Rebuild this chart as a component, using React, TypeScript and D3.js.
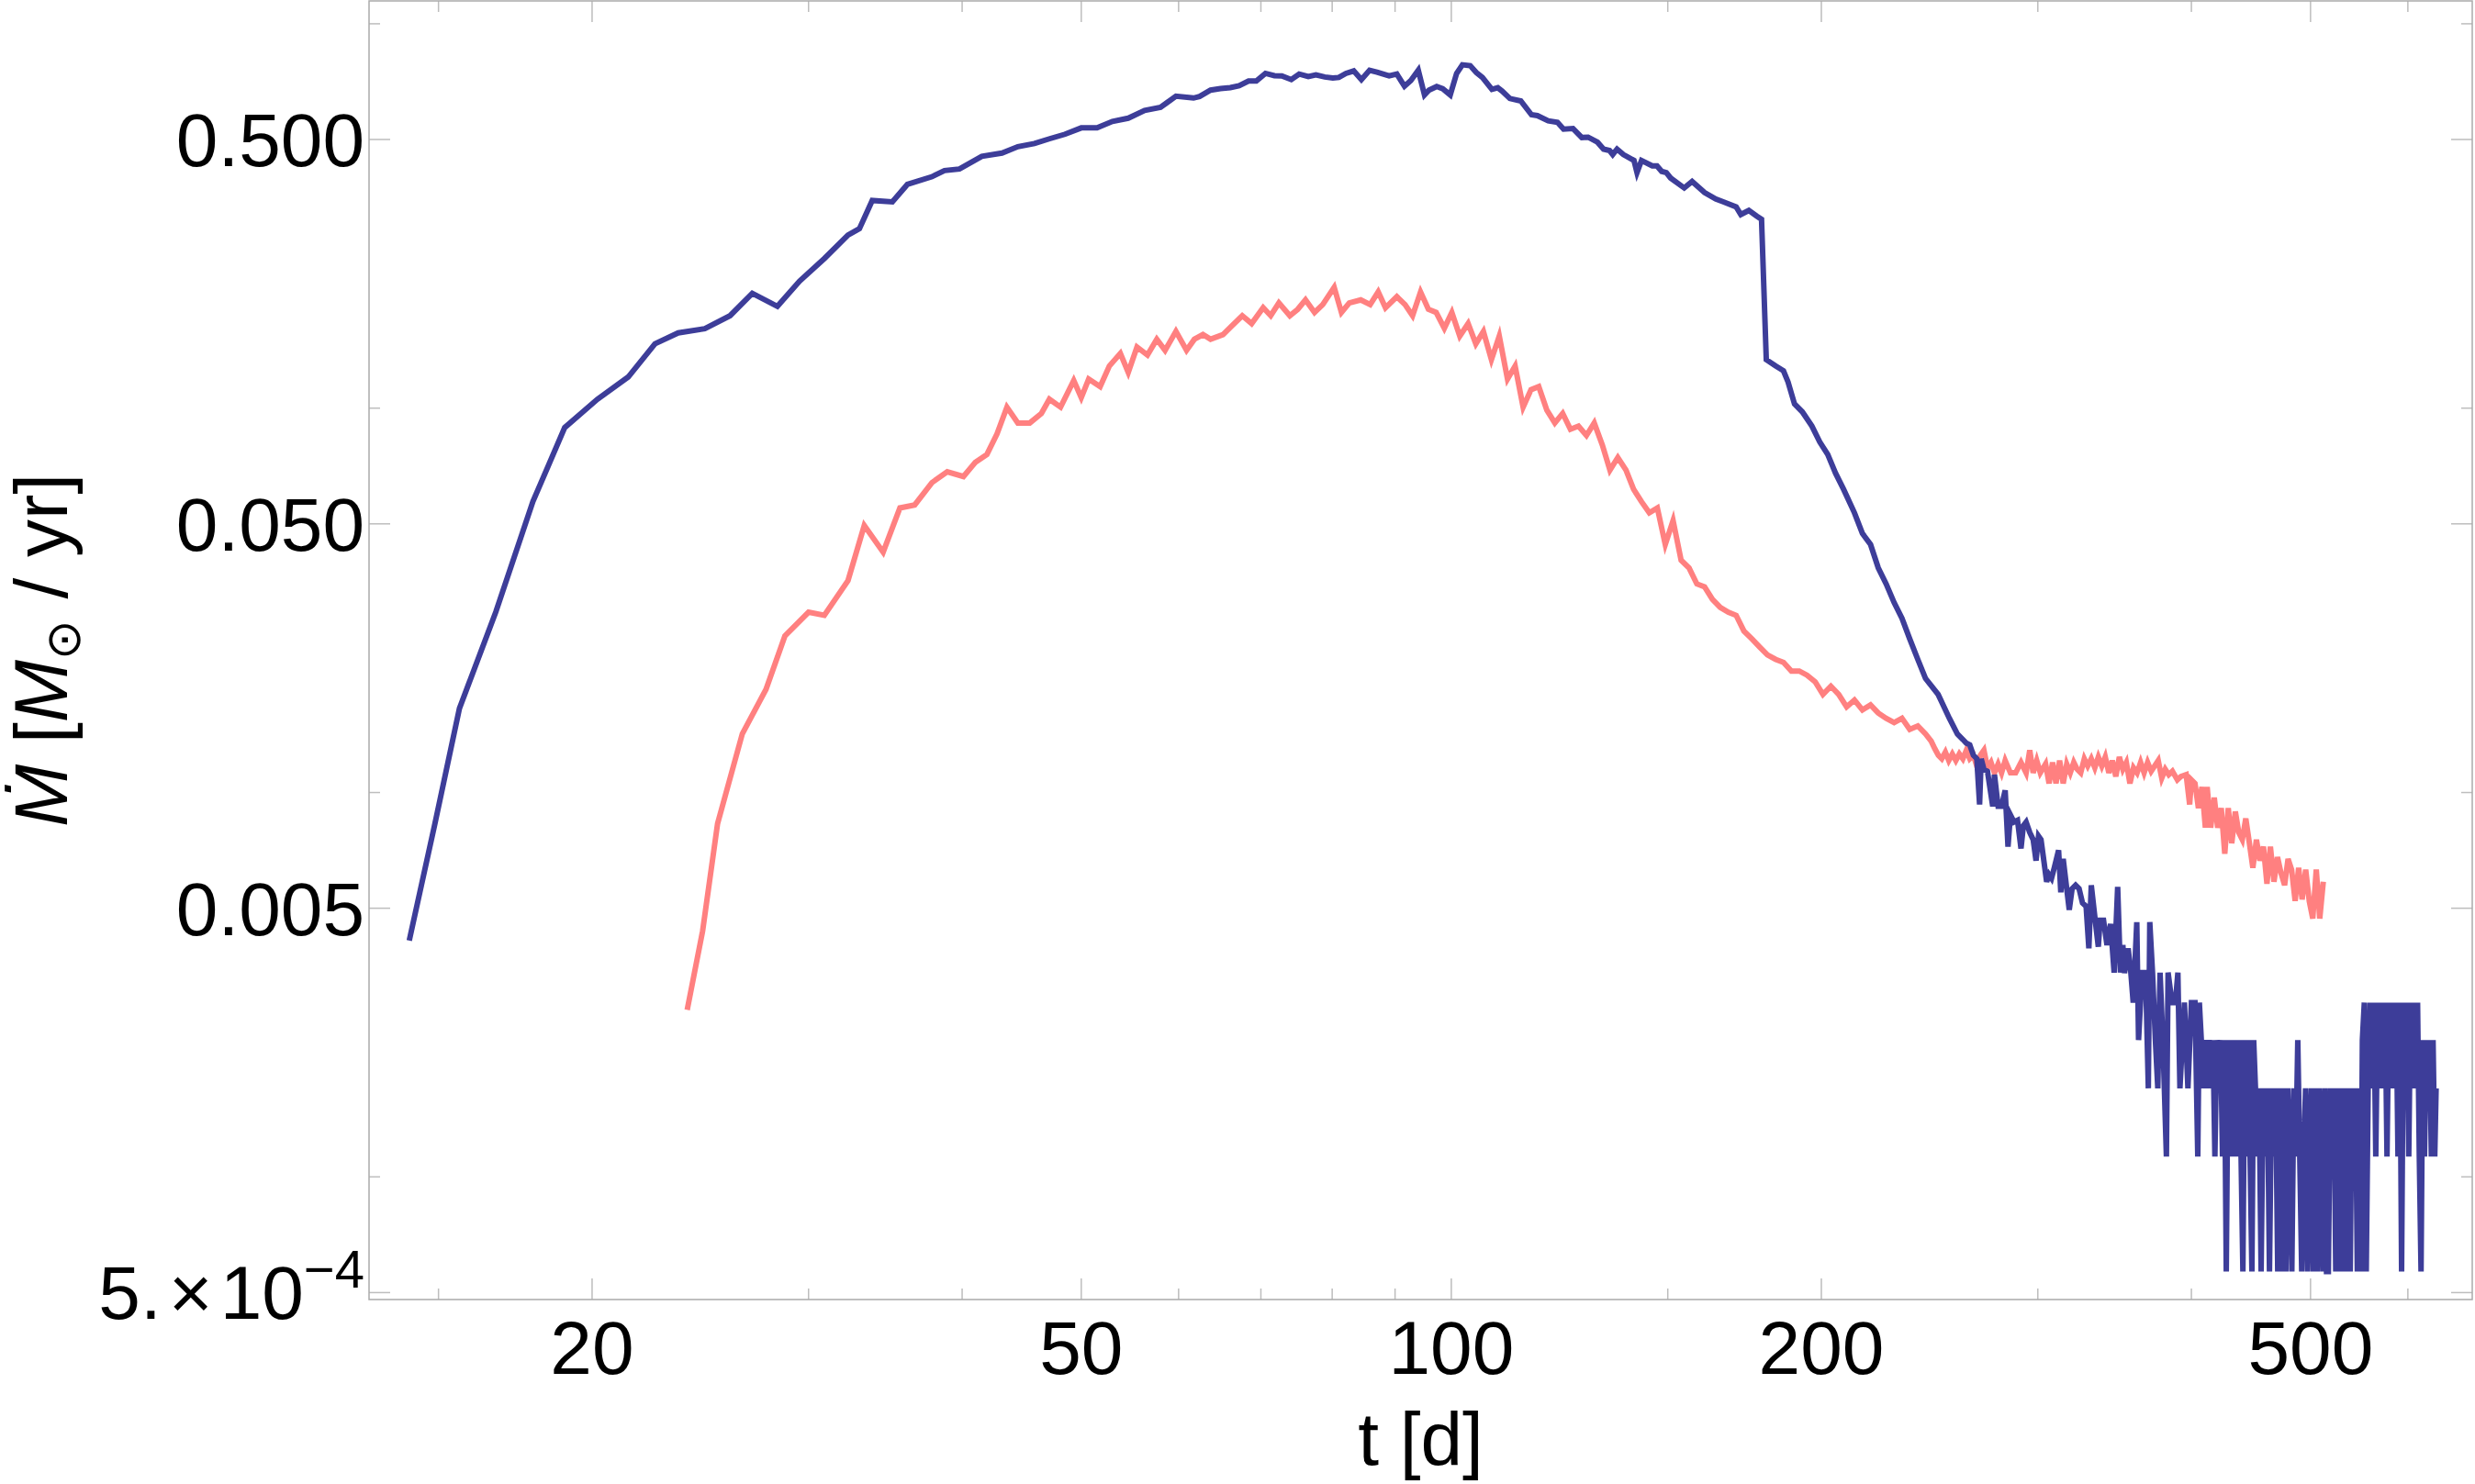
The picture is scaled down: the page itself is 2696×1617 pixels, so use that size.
import { useEffect } from 'react';
import * as d3 from 'd3';

// Blue series: t [d] and Mdot [Msun/yr]
const BLUE_T = [
  14.2, 14.9, 15.6, 16.7, 17.9, 19.0, 20.2, 21.4, 22.5, 23.5, 24.7, 25.9, 27.0, 28.3, 29.5, 30.9, 32.3, 33.0, 33.8, 35.1,
  36.1, 37.8, 38.7, 39.8, 41.5, 43.1, 44.4, 45.8, 47.1, 48.5, 50.0, 51.5, 53.0, 54.6, 56.3, 58.0, 59.7,
  61.7, 62.4, 63.7, 64.9, 66.1, 67.2, 68.4, 69.4, 70.6, 71.8, 72.8, 74.1, 75.2, 76.5, 77.6, 78.9, 80.1, 81.0, 82.1, 83.3,
  84.5, 85.8, 87.0, 89.0, 90.3, 91.6, 92.7, 94.0, 95.1, 95.9, 97.3, 98.4, 99.8, 101.0, 102.1, 103.6, 104.8, 106.0, 107.9, 109.1,
  110.0, 111.6, 113.9, 116.2, 117.5, 119.9, 122.0, 123.4, 125.6, 127.7, 129.2, 131.5, 133.0, 134.5, 135.3, 136.4, 138.0, 140.8, 141.6, 142.8,
  145.7, 147.0, 148.3, 149.6, 150.8,
  154.7, 157.0, 160.7, 164.1, 166.5, 170.5, 172.0, 174.6, 177.2, 178.8, 180.4, 183.6, 186.3, 187.9, 190.2, 193.0, 196.5, 199.4, 202.4, 205.4,
  208.5, 212.8, 216.0, 219.3, 222.5, 225.8, 229.2, 232.6, 236.0, 239.6, 243.1, 248.9, 254.2,
  258.1, 260.7, 262.4, 264.1, 265.9, 267.6, 269.0, 269.8, 271.2, 273.0, 275.7, 276.6, 278.5, 280.3, 282.2, 283.7, 285.0, 286.9, 288.8, 290.7,
  292.0, 293.5, 295.5, 297.4, 299.0, 300.4, 301.8, 303.4, 305.0, 306.4, 307.8, 309.4, 311.9, 313.2, 314.6, 316.7, 318.2, 319.9, 322.0, 324.1,
  326.2, 328.4, 330.1, 331.6, 333.8, 336.0, 337.1, 339.3, 341.5, 343.8, 346.1, 348.4, 350.2, 351.8, 352.9, 355.3, 357.1, 358.7, 361.1, 362.3,
  364.7, 367.1, 369.0, 370.0, 371.9, 373.9, 375.6, 377.2, 379.2, 381.7, 382.9, 385.7, 388.2, 390.0, 391.5, 394.8, 397.4, 400.0, 402.7, 404.8,
  406.0, 407.5, 409.0, 410.5, 412.0, 413.5, 415.0, 416.5, 418.0, 419.5, 421.0, 422.5, 424.0, 425.5, 427.0,
  428.5, 430.0, 431.5, 433.0, 434.5, 436.0, 437.5, 439.0, 440.5, 442.0, 443.5, 445.0, 446.5, 448.0, 449.5, 451.0, 452.5,
  454.0, 455.8, 457.6, 459.4, 461.2, 463.0, 464.8, 466.6, 468.4, 470.2, 472.0, 473.8, 475.6, 477.4, 479.2, 481.0, 482.8, 484.6, 486.4, 488.2,
  490.0, 491.8, 493.6, 495.4, 497.2, 499.0, 500.8, 502.6, 504.4, 506.2, 508.0, 509.8, 511.6, 513.4, 515.2, 517.0, 518.8, 520.6, 522.4, 524.2,
  526.0, 527.8, 529.6, 531.4, 533.2, 535.0, 536.8, 538.6, 540.4, 542.2, 544.0, 545.8, 547.6, 549.4,
  551, 553, 555, 557, 559, 561, 563, 565, 567, 569, 571, 573, 575, 577, 579, 581, 583, 585, 587, 589,
  591, 593, 595, 597, 599, 601, 603, 605, 607, 609, 611, 613, 615, 617, 619, 621, 623, 625, 627, 629, 631, 632.6,
];
const BLUE_M = [
  0.00412, 0.0083, 0.01655, 0.0295, 0.0571, 0.089, 0.1055, 0.1205, 0.147, 0.157, 0.161, 0.174, 0.199, 0.184, 0.214, 0.245, 0.282, 0.293, 0.347, 0.344,
  0.382, 0.4, 0.415, 0.419, 0.452, 0.461, 0.479, 0.488, 0.502, 0.516, 0.536, 0.536, 0.557, 0.568, 0.595, 0.606, 0.648,
  0.641, 0.647, 0.672, 0.678, 0.682, 0.69, 0.71, 0.71, 0.743, 0.733, 0.732, 0.716, 0.74, 0.729, 0.736, 0.727, 0.723, 0.725, 0.743, 0.754,
  0.716, 0.757, 0.748, 0.732, 0.74, 0.688, 0.712, 0.757, 0.653, 0.672, 0.687, 0.678, 0.653, 0.743, 0.782, 0.778, 0.747, 0.725, 0.675, 0.682,
  0.668, 0.639, 0.63, 0.58, 0.577, 0.559, 0.554, 0.532, 0.534, 0.506, 0.507, 0.492, 0.472, 0.468, 0.457, 0.472, 0.457, 0.441, 0.41, 0.441,
  0.427, 0.427, 0.413, 0.41, 0.397,
  0.374, 0.389, 0.364, 0.35, 0.344, 0.334, 0.319, 0.327, 0.316, 0.31, 0.1337, 0.1287, 0.1251, 0.117, 0.1025, 0.0978, 0.0898, 0.0817, 0.0758, 0.0677,
  0.0615, 0.0534, 0.0472, 0.0442, 0.0384, 0.0349, 0.0312, 0.0284, 0.0251, 0.0222, 0.0198, 0.018, 0.0156,
  0.01418, 0.01374, 0.01344, 0.0133, 0.0125, 0.01224, 0.00931, 0.01224, 0.01149, 0.01136, 0.00921, 0.01113, 0.00921, 0.00921, 0.01013, 0.00723, 0.00874, 0.00838, 0.00847, 0.00715,
  0.0082, 0.00838, 0.00787, 0.00754, 0.00665, 0.0077, 0.00754, 0.00665, 0.00586, 0.00611, 0.00598, 0.00637, 0.00708, 0.0055, 0.00672, 0.00562, 0.00495, 0.00562, 0.00574, 0.00562,
  0.00516, 0.00506, 0.00393, 0.00574, 0.00475, 0.00397, 0.00465, 0.00465, 0.00401, 0.00455, 0.0034, 0.00568, 0.0034, 0.00401, 0.00339, 0.00393, 0.0034, 0.00284, 0.0046, 0.00227,
  0.0034, 0.0034, 0.0017, 0.0046, 0.0034, 0.00227, 0.0017, 0.0034, 0.00227, 0.00113, 0.0034, 0.00284, 0.00284, 0.0034, 0.0017, 0.00284, 0.0017, 0.00284, 0.00284, 0.00113,
  0.00284, 0.00227, 0.0017, 0.00227, 0.0017, 0.00227, 0.0017, 0.00227, 0.00113, 0.00227, 0.0017, 0.00227, 0.00113, 0.00227, 0.000567,
  0.00227, 0.00113, 0.00227, 0.00113, 0.00227, 0.00113, 0.00227, 0.00113, 0.000567, 0.00227, 0.00113, 0.00227, 0.00113, 0.000567, 0.00227, 0.0017, 0.00113,
  0.0017, 0.000567, 0.0017, 0.00113, 0.0017, 0.000567, 0.0017, 0.00113, 0.0017, 0.000567, 0.0017, 0.000567, 0.0017, 0.000567, 0.0017, 0.00113, 0.000567, 0.0017, 0.00113, 0.00227,
  0.00113, 0.000567, 0.00113, 0.0017, 0.000567, 0.00113, 0.0017, 0.000567, 0.0017, 0.000567, 0.0017, 0.00113, 0.000567, 0.0017, 0.000567, 0.000567, 0.0017, 0.00113, 0.0017, 0.000567,
  0.0017, 0.000567, 0.0017, 0.000567, 0.0017, 0.000567, 0.0017, 0.000567, 0.0017, 0.00113, 0.0017, 0.000567, 0.0017, 0.000567,
  0.00227, 0.00284, 0.000567, 0.0017, 0.00284, 0.0017, 0.00284, 0.00113, 0.00284, 0.0017, 0.00284, 0.0017, 0.00284, 0.00113, 0.00284, 0.0017, 0.00284, 0.0017, 0.00284, 0.00113,
  0.00284, 0.000567, 0.00284, 0.0017, 0.00284, 0.00113, 0.00284, 0.0017, 0.00284, 0.0017, 0.00284, 0.00113, 0.000567, 0.00227, 0.00113, 0.00227, 0.0017, 0.00227, 0.00113, 0.00227, 0.00113, 0.0017,
];

// Red series
const RED_T = [
  23.9, 24.6, 25.3, 26.5, 27.7, 28.7, 30.0, 30.9, 32.3, 33.3, 34.5, 35.6, 36.6, 37.8, 38.9, 40.1, 41.0, 41.9, 42.7, 43.5,
  44.4, 45.4, 46.4, 47.1, 48.1, 49.3, 50.0, 50.7, 51.8, 52.7, 53.8, 54.6, 55.5, 56.6, 57.6, 58.5, 59.7, 60.9, 61.8, 62.8,
  63.7, 65.2, 66.2, 67.6, 68.8, 70.3, 71.3, 72.4, 73.9, 75.0, 76.1, 77.4, 78.6, 80.3, 81.4, 82.6, 84.4, 85.9, 87.2, 88.4,
  90.3, 91.7, 93.0, 94.4, 95.8, 97.2, 98.7, 100.1, 101.6, 103.2, 104.7, 106.2, 107.8, 109.4, 111.1, 112.7, 114.4, 116.1, 117.8, 119.6,
  121.4, 123.2, 125.0, 126.9, 128.8, 130.7, 132.7, 134.6, 136.6, 138.7, 140.7, 142.8, 144.9, 147.1, 149.3, 151.5, 153.8, 156.1, 158.4, 160.7,
  163.1, 165.5, 168.0, 170.5, 173.0, 175.6, 178.2, 180.8, 183.6, 186.3, 189.1, 191.9, 194.7, 197.7, 200.6, 203.6, 206.6, 209.7, 212.8, 216.0,
  219.3, 222.5, 225.8, 229.2, 232.6, 236.0, 239.6, 243.1,
  245.7, 247.3, 249.0, 250.6, 252.3, 253.9, 255.6, 257.3, 259.0, 260.7, 262.4, 264.1, 265.9, 267.6, 269.4, 271.2, 273.0, 274.8, 276.6, 278.5,
  280.3, 282.2, 285.0, 287.8, 290.7, 293.5, 295.5, 297.4, 299.4, 301.4, 304.4, 306.4, 308.4, 310.4, 312.5, 314.6, 316.7, 318.8, 320.9, 323.0,
  325.1, 327.3, 329.4, 331.6, 333.8, 336.0, 338.2, 340.4, 342.7, 344.9, 347.2, 349.5, 351.8, 354.1, 356.5, 358.9, 361.3, 363.7, 366.1, 368.5,
  371.0, 373.4, 375.9, 378.4, 380.9, 383.4, 386.0, 389.6, 392.2, 396.1, 398.7, 400.0, 402.7, 405.3, 408.0, 410.6, 412.0, 414.7, 417.5, 420.2,
  423.0, 425.8, 428.6, 431.4, 434.3, 437.1, 440.0, 442.9, 445.9, 448.8, 451.8, 454.8, 457.8, 460.8, 463.8, 466.9, 470.0, 473.1, 476.3, 479.4,
  482.6, 485.8, 489.0, 492.2, 495.5, 498.8, 502.1, 505.4, 508.7, 512.1,
];
const RED_M = [
  0.00272, 0.00436, 0.0083, 0.01422, 0.01854, 0.02555, 0.02945, 0.0289, 0.0356, 0.0495, 0.0422, 0.055, 0.056, 0.064, 0.0683, 0.0664, 0.0723, 0.0758, 0.0857, 0.1006,
  0.0915, 0.0915, 0.0969, 0.1055, 0.1006, 0.118, 0.1065, 0.119, 0.1138, 0.1287, 0.1388, 0.1239, 0.1442, 0.1375, 0.1511, 0.1414, 0.1584, 0.1414, 0.1511, 0.1554,
  0.1511, 0.1554, 0.163, 0.174, 0.166, 0.1825, 0.174, 0.1878, 0.174, 0.1808, 0.1913, 0.1774, 0.186, 0.2063, 0.1774, 0.1878, 0.1913, 0.186, 0.2006, 0.1825,
  0.195, 0.186, 0.174, 0.2006, 0.1808, 0.1774, 0.1614, 0.1774, 0.154, 0.166, 0.147, 0.1584, 0.1337, 0.154, 0.119, 0.1287, 0.1006, 0.1117, 0.1138, 0.0988,
  0.0915, 0.0969, 0.0881, 0.0898, 0.0849, 0.0915, 0.0802, 0.069, 0.0744, 0.069, 0.0615, 0.0571, 0.0534, 0.055, 0.0442, 0.051, 0.0402, 0.0384, 0.0349, 0.0343,
  0.0318, 0.0303, 0.02945, 0.0289, 0.0263, 0.0251, 0.0239, 0.0228, 0.0222, 0.0218, 0.0207, 0.0207, 0.0202, 0.0194, 0.018, 0.0189, 0.018, 0.0167, 0.0174, 0.0164,
  0.0169, 0.0161, 0.0156, 0.0152, 0.0156, 0.0146, 0.0149, 0.0142,
  0.0136, 0.01302, 0.0125, 0.01224, 0.01274, 0.01211, 0.0126, 0.01211, 0.0126, 0.01224, 0.01288, 0.01224, 0.0125, 0.01172, 0.0125, 0.01288, 0.0116, 0.01198, 0.01125, 0.01186,
  0.01125, 0.01211, 0.01125, 0.01125, 0.01198, 0.01125, 0.01288, 0.01125, 0.01211, 0.01125, 0.01186, 0.01056, 0.01198, 0.01056, 0.01211, 0.01056, 0.01186, 0.01125, 0.01198, 0.01149,
  0.01125, 0.01224, 0.01172, 0.01224, 0.0116, 0.01237, 0.01172, 0.01237, 0.01125, 0.01211, 0.01101, 0.01237, 0.01149, 0.01198, 0.01056, 0.0116, 0.01125, 0.01198, 0.01125, 0.01198,
  0.01136, 0.01172, 0.01211, 0.0109, 0.01149, 0.01113, 0.01136, 0.01079, 0.01101, 0.01113, 0.00931, 0.01079, 0.01056, 0.00911, 0.01034, 0.0081, 0.01034, 0.0081, 0.0097, 0.0081,
  0.00911, 0.00693, 0.00911, 0.00738, 0.00892, 0.00787, 0.00754, 0.00856, 0.00738, 0.00637, 0.00754, 0.00665, 0.00723, 0.00579, 0.00723, 0.00586, 0.00679, 0.00617, 0.00574, 0.00672,
  0.0063, 0.00522, 0.00637, 0.00527, 0.0063, 0.00522, 0.0047, 0.0063, 0.0047, 0.00586,
];

const X_MAJOR = [20, 50, 100, 200, 500];
const X_MINOR = [15, 30, 40, 60, 70, 80, 90, 150, 300, 400, 600];
const Y_MAJOR = [0.5, 0.05, 0.005, 0.0005];
const Y_LABELS = ['0.500', '0.050', '0.005'];
const Y_MINOR = [1, 0.1, 0.01, 0.001];

const W = 2696;
const H = 1617;
const margin = { left: 402, right: 3, top: 1, bottom: 201 };
const FONT = "'Liberation Sans', Arial, Helvetica, sans-serif";

export default function App() {
  useEffect(() => {
    document.body.style.margin = '0';
  }, []);

  const x0 = margin.left;
  const x1 = W - margin.right;
  const y0 = margin.top;
  const y1 = H - margin.bottom;

  const x = d3.scaleLog().domain([13.17, 676.9]).range([x0, x1]);
  const y = d3.scaleLog().domain([4.796e-4, 1.1468]).range([y1, y0]);

  const line = d3
    .line<number[]>()
    .x((d) => x(d[0]))
    .y((d) => y(d[1]));

  const blue = BLUE_T.map((t, i) => [t, BLUE_M[i]]);
  const red = RED_T.map((t, i) => [t, RED_M[i]]);

  const tickColor = '#bdbdbd';
  const major = 23;
  const minor = 12;
  const fs = 82;

  return (
    <svg width={W} height={H} style={{ position: 'fixed', left: 0, top: 0, display: 'block', background: '#fff' }}>
      <defs>
        <clipPath id="plot">
          <rect x={x0} y={y0} width={x1 - x0} height={y1 - y0} />
        </clipPath>
      </defs>

      {/* ticks on all four sides */}
      <g stroke={tickColor} strokeWidth={1.5}>
        {X_MAJOR.concat(X_MINOR).map((v) => {
          const len = X_MAJOR.includes(v) ? major : minor;
          const px = x(v);
          return (
            <g key={'x' + v}>
              <line x1={px} x2={px} y1={y1} y2={y1 - len} />
              <line x1={px} x2={px} y1={y0} y2={y0 + len} />
            </g>
          );
        })}
        {Y_MAJOR.concat(Y_MINOR).map((v) => {
          const len = Y_MAJOR.includes(v) ? major : minor;
          const py = y(v);
          return (
            <g key={'y' + v}>
              <line x1={x0} x2={x0 + len} y1={py} y2={py} />
              <line x1={x1} x2={x1 - len} y1={py} y2={py} />
            </g>
          );
        })}
      </g>

      {/* frame */}
      <rect x={x0} y={y0} width={x1 - x0} height={y1 - y0} fill="none" stroke="#aaaaaa" strokeWidth={1.5} />

      {/* data */}
      <g clipPath="url(#plot)" fill="none" strokeWidth={6}>
        <path d={line(red) || ''} stroke="#ff8080" />
        <path d={line(blue) || ''} stroke="#3d3d99" />
      </g>

      {/* tick labels */}
      <g fontFamily={FONT} fontSize={fs} fill="#000">
        {X_MAJOR.map((v) => (
          <text key={'xl' + v} x={x(v)} y={1497} textAnchor="middle">
            {v}
          </text>
        ))}
        {Y_LABELS.map((s, i) => (
          <text key={'yl' + s} x={397} y={y(Y_MAJOR[i]) + 29} textAnchor="end">
            {s}
          </text>
        ))}
        <text x={397} y={y(Y_MAJOR[3]) + 29} textAnchor="end">
          <tspan>5.</tspan>
          <tspan dx={8}>×</tspan>
          <tspan dx={8}>10</tspan>
          <tspan fontSize={58} dy={-34}>−4</tspan>
        </text>
      </g>

      {/* axis titles */}
      <g fontFamily={FONT} fontSize={fs} fill="#000">
        <text x={(x0 + x1) / 2} y={1596} textAnchor="middle">
          t [d]
        </text>
        <text transform={`translate(73,${(y0 + y1) / 2}) rotate(-90)`} textAnchor="middle">
          <tspan fontStyle="italic">Ṁ</tspan>
          <tspan> [</tspan>
          <tspan fontStyle="italic">M</tspan>
          <tspan fontFamily="'DejaVu Sans'" fontSize={52} dy={14}>⊙</tspan>
          <tspan dy={-14}> / yr]</tspan>
        </text>
      </g>
    </svg>
  );
}
